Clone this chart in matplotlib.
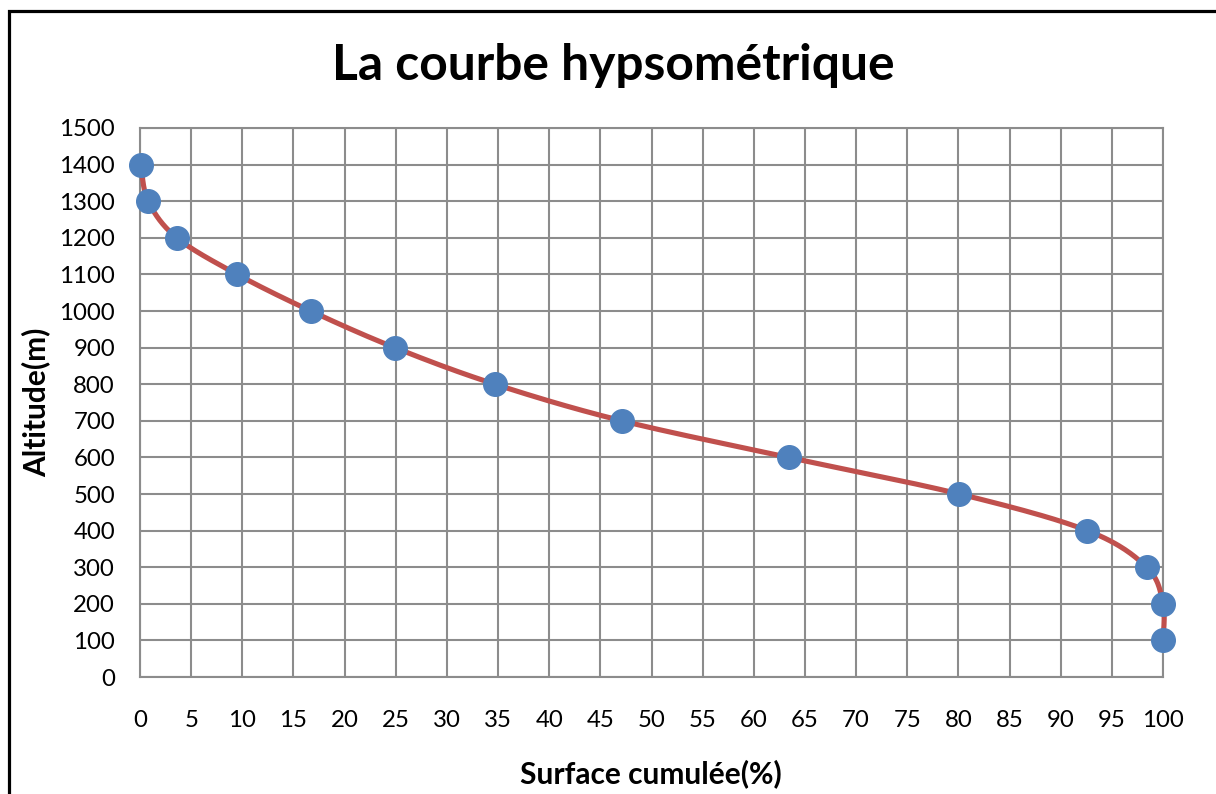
import numpy as np
import matplotlib
matplotlib.use("Agg")
import matplotlib.pyplot as plt
from matplotlib.patches import Rectangle

surface = [0.1, 0.8, 3.6, 9.5, 16.7, 24.9, 34.7, 47.1, 63.4, 80.1, 92.6, 98.4, 100.0, 100.0]
altitude = [1400, 1300, 1200, 1100, 1000, 900, 800, 700, 600, 500, 400, 300, 200, 100]
xticks = list(range(0, 101, 5))
yticks = list(range(0, 1501, 100))

plt.rcParams['font.family'] = ['Lato', 'DejaVu Sans']

W, H = 1216, 794
fig = plt.figure(figsize=(W / 100, H / 100), dpi=100)
ax = fig.add_axes([140 / W, 1 - 677 / H, (1163 - 140) / W, (677 - 128) / H])
ax.set_xlim(0, 100)
ax.set_ylim(0, 1500)
ax.set_xticks(xticks)
ax.set_yticks(yticks)
ax.grid(True, color='#8c8c8c', linewidth=1.5)
ax.set_axisbelow(True)
for s in ax.spines.values():
    s.set_color('#8c8c8c')
    s.set_linewidth(1.5)
ax.tick_params(length=0, labelsize=17.3, pad=18, colors='black')
ax.tick_params(axis='x', pad=24)

# Smoothed curve (Catmull-Rom / Excel-like Bezier) computed in display space
pts = ax.transData.transform(np.column_stack([surface, altitude]))
n = len(pts)
curve = []
for i in range(n - 1):
    p0 = pts[max(i - 1, 0)]
    p1 = pts[i]
    p2 = pts[i + 1]
    p3 = pts[min(i + 2, n - 1)]
    c1 = p1 + (p2 - p0) / 6
    c2 = p2 - (p3 - p1) / 6
    t = np.linspace(0, 1, 30)[:, None]
    seg = (1 - t) ** 3 * p1 + 3 * (1 - t) ** 2 * t * c1 + 3 * (1 - t) * t ** 2 * c2 + t ** 3 * p2
    curve.append(seg)
curve = np.vstack(curve)
cd = ax.transData.inverted().transform(curve)
ax.plot(cd[:, 0], cd[:, 1], color='#C0504D', linewidth=3.7, clip_on=False, zorder=3,
        solid_capstyle='round')
ax.plot(surface, altitude, linestyle='none', marker='o', markersize=17,
        markerfacecolor='#4F81BD', markeredgecolor='#4F81BD', clip_on=False, zorder=4)

fig.text(613 / W, 1 - 66 / H, 'La courbe hypsométrique', ha='center', va='center',
         fontsize=35.8, fontweight='bold')
fig.text(651 / W, 1 - 774 / H, 'Surface cumulée(%)', ha='center', va='center',
         fontsize=21.5, fontweight='bold')
fig.text(36 / W, 1 - 402 / H, 'Altitude(m)', ha='center', va='center', rotation=90,
         fontsize=21.5, fontweight='bold')

fig.add_artist(Rectangle((9 / W, -0.1), 1.2, (H - 11) / H + 0.1, transform=fig.transFigure,
                         fill=False, edgecolor='black', linewidth=2.3))

fig.savefig('out.png', dpi=100)
